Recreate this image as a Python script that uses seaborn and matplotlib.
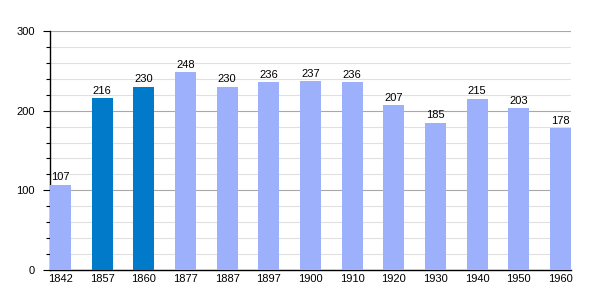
import matplotlib
matplotlib.use("Agg")
import matplotlib.pyplot as plt
import seaborn as sns
import pandas as pd
from matplotlib.ticker import MultipleLocator

years = ["1842", "1857", "1860", "1877", "1887", "1897", "1900", "1910", "1920", "1930", "1940", "1950", "1960"]
population = [107, 216, 230, 248, 230, 236, 237, 236, 207, 185, 215, 203, 178]
highlight = [False, True, True, False, False, False, False, False, False, False, False, False, False]

light = "#9db0fb"
dark = "#007ac9"
colors = [dark if h else light for h in highlight]

sns.set_style("white")
plt.rcParams['font.family'] = ['Liberation Sans', 'DejaVu Sans']

df = pd.DataFrame({"year": years, "pop": population})

fig = plt.figure(figsize=(6, 3), dpi=100)
ax = fig.add_axes([50/600, 30/300, 521/600, 239/300])

sns.barplot(data=df, x="year", y="pop", hue="year", palette=colors, legend=False,
            width=0.5, ax=ax, saturation=1, zorder=3, linewidth=0)

ax.set_xlim(-0.25, len(years) - 0.75)
ax.set_ylim(0, 300)
ax.yaxis.set_major_locator(MultipleLocator(100))
ax.yaxis.set_minor_locator(MultipleLocator(20))
ax.grid(which="minor", axis="y", color="#e0e0e0", linewidth=0.8, zorder=0)
ax.grid(which="major", axis="y", color="#a8a8a8", linewidth=0.8, zorder=1)
ax.set_axisbelow(True)

for s in ["top", "right"]:
    ax.spines[s].set_visible(False)
for s in ["left", "bottom"]:
    ax.spines[s].set_color("black")
    ax.spines[s].set_linewidth(1)

ax.tick_params(axis="y", which="major", length=5, width=0.8, color="black", labelsize=8, pad=6, left=True, labelcolor="black")
ax.tick_params(axis="y", which="minor", length=3, width=0.8, color="black", left=True)
ax.tick_params(axis="x", length=0, labelsize=8, pad=3, labelcolor="black")
ax.set_xlabel("")
ax.set_ylabel("")

for i, v in enumerate(population):
    ax.text(i, v + 3, str(v), ha="center", va="bottom", fontsize=8, color="black")

fig.savefig("out.png", dpi=100)
